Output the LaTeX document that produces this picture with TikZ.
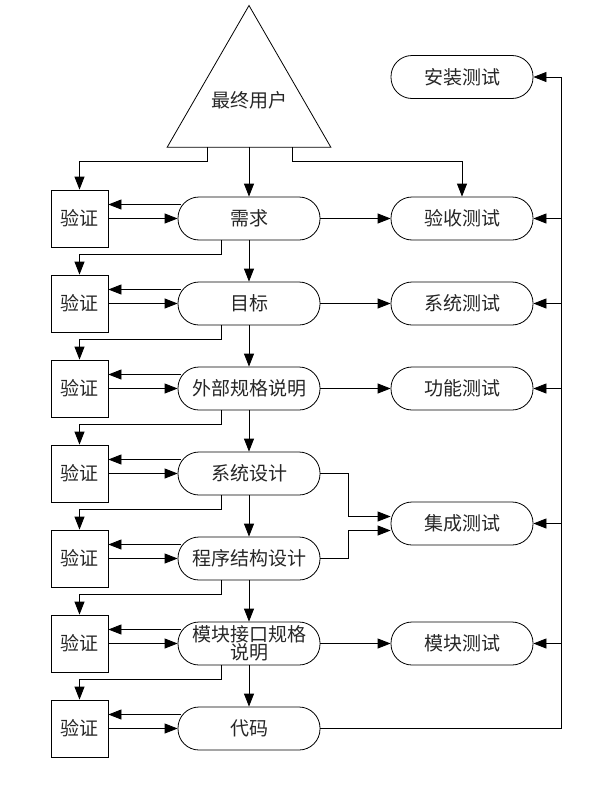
\documentclass[tikz,border=0pt]{standalone}
\usepackage{fontspec}
\newfontfamily\cjk{Noto Sans CJK SC}
\usetikzlibrary{arrows.meta,shapes.geometric,calc}
\begin{document}
\begin{tikzpicture}[x=1pt,y=-1pt,
  every node/.style={font=\cjk\fontsize{19}{19}\selectfont, text=black!85},
  stage/.style={draw, line width=0.8pt, rounded corners=21pt, minimum width=142pt, minimum height=43pt, inner sep=1pt},
  vbox/.style={draw, line width=0.8pt, minimum width=57pt, minimum height=57pt, inner sep=0pt},
  ln/.style={line width=0.8pt},
  arr/.style={line width=0.8pt, -{Triangle[length=13pt,width=10pt]}},
  tri/.style={draw, line width=0.8pt, regular polygon, regular polygon sides=3, minimum size=189pt, inner sep=0pt}
]
\useasboundingbox (0,0) rectangle (613,795);
% triangle
\node[tri] (user) at (249,100) {};
\node (usertxt) at (249,100) {最终用户};
\coordinate (b1) at (207,147);
\coordinate (b2) at (249,147);
\coordinate (b3) at (292,147);
% stages
\node[stage] (s1) at (249,218.5) {需求};
\node[stage] (s2) at (249,303.5) {目标};
\node[stage] (s3) at (249,388.5) {外部规格说明};
\node[stage] (s4) at (249,473.5) {系统设计};
\node[stage] (s5) at (249,558.5) {程序结构设计};
\node[stage, align=center, inner sep=0pt, font=\cjk\fontsize{19}{17}\selectfont] (s6) at (249,643.5) {模块接口规格\\说明};
\node[stage] (s7) at (249,728.5) {代码};
% verify boxes
\foreach \i/\y in {1/218.5,2/303.5,3/388.5,4/473.5,5/558.5,6/643.5,7/728.5}
  \node[vbox] (v\i) at (79.5,\y) {验证};
% tests
\node[stage] (r1) at (462,77) {安装测试};
\node[stage] (r2) at (462,218.5) {验收测试};
\node[stage] (r3) at (462,303.5) {系统测试};
\node[stage] (r4) at (462,388.5) {功能测试};
\node[stage] (r5) at (462,523.5) {集成测试};
\node[stage] (r6) at (462,643.5) {模块测试};
% from user
\draw[arr] (b1) -- (207,161) -| (v1.north);
\draw[arr] (b2) -- (s1.north);
\draw[arr] (b3) -- (292,161) -| (r2.north);
% stage chain
\foreach \i/\j in {1/2,2/3,3/4,4/5,5/6,6/7}{
  \draw[arr] (s\i.south) -- (s\j.north);
  \draw[arr] ([xshift=-28pt]s\i.south) -- ++(0,14) -| (v\j.north);
}
\foreach \i in {1,...,7}{
  \draw[arr] ([xshift=3pt,yshift=14pt]s\i.west) -- ([yshift=14pt]v\i.east);
  \draw[arr] (v\i.east) -- (s\i.west);
}
% to tests
\draw[arr] (s1.east) -- (r2.west);
\draw[arr] (s2.east) -- (r3.west);
\draw[arr] (s3.east) -- (r4.west);
\draw[arr] (s6.east) -- (r6.west);
\draw[arr] (s4.east) -- (348,473.5) -- (348,516.5) -- ([yshift=7pt]r5.west);
\draw[arr] (s5.east) -- (348,558.5) -- (348,530.5) -- ([yshift=-7pt]r5.west);
% feedback
\coordinate (fb) at (561,77);
\draw[arr] (s7.east) -- (561,728.5) -- (fb) -- (r1.east);
\foreach \i in {2,...,6}
  \draw[arr] (r\i.east -| fb) -- (r\i.east);
\end{tikzpicture}
\end{document}
